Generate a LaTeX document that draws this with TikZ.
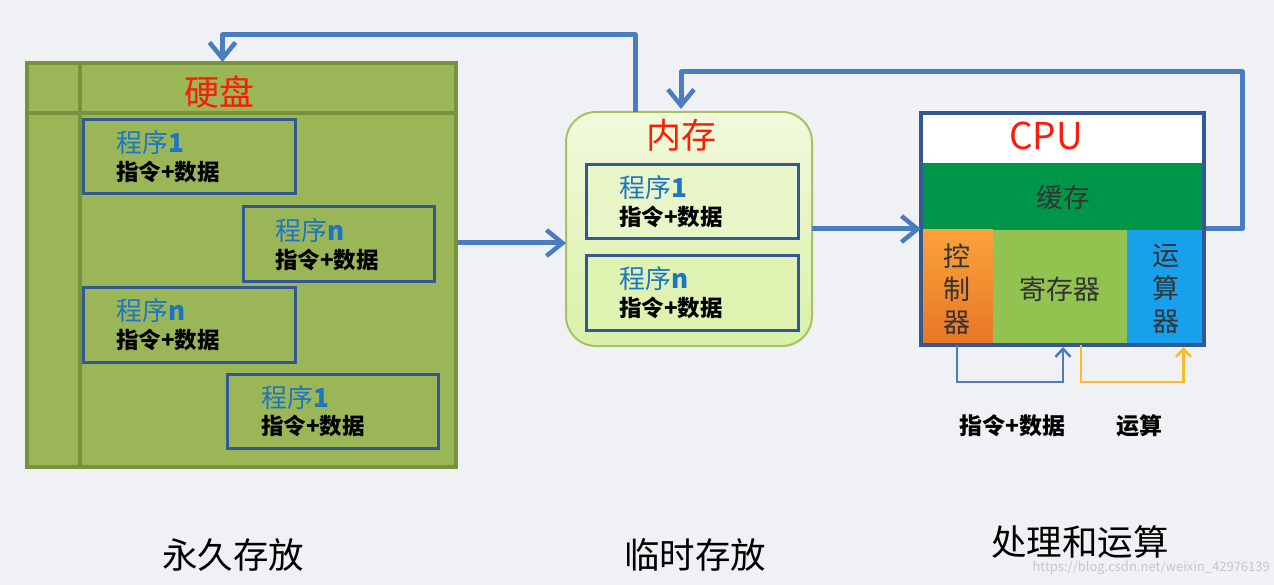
\documentclass[tikz,border=0pt]{standalone}
\usepackage{fontspec}
\setmainfont{Noto Sans CJK SC}
\usetikzlibrary{arrows.meta,calc}
\definecolor{bgcol}{RGB}{240,241,244}
\definecolor{olive}{RGB}{155,182,86}
\definecolor{olivedark}{RGB}{118,146,60}
\definecolor{boxblue}{RGB}{52,88,148}
\definecolor{progblue}{RGB}{28,118,196}
\definecolor{titlered}{RGB}{250,30,10}
\definecolor{conblue}{RGB}{74,124,192}
\definecolor{cachegreen}{RGB}{0,150,74}
\definecolor{reggreen}{RGB}{146,195,80}
\definecolor{alublue}{RGB}{24,160,236}
\definecolor{ctrltop}{RGB}{250,162,60}
\definecolor{ctrlbot}{RGB}{232,118,36}
\definecolor{memtop}{RGB}{242,250,220}
\definecolor{membot}{RGB}{218,240,168}
\definecolor{memborder}{RGB}{165,195,95}
\definecolor{yarrow}{RGB}{252,188,40}
\begin{document}
\begin{tikzpicture}[x=1pt,y=-1pt,
  cell/.style={inner sep=0pt, outer sep=0pt, anchor=north west},
  progbox/.style={cell, draw=boxblue, line width=3pt, minimum width=212pt, minimum height=74pt},
  progtitle/.style={anchor=west, inner sep=0pt, font=\fontsize{26}{26}\selectfont, text=progblue},
  progtext/.style={anchor=west, inner sep=0pt, font=\fontsize{22.5}{22.5}\selectfont\bfseries},
  bigtitle/.style={inner sep=0pt, font=\fontsize{35}{35}\selectfont, text=titlered},
  biglabel/.style={inner sep=0pt, font=\fontsize{35.5}{35.5}\selectfont},
  conn/.style={draw=conblue, line width=5pt, line join=round, -{Straight Barb[length=16pt,width=26pt,line width=4.5pt]}},
  smallconn/.style={line width=2.5pt, -{Straight Barb[length=8pt,width=15pt,line width=2.5pt]}},
]
\useasboundingbox (0,0) rectangle (1274,585);
\fill[bgcol] (0,0) rectangle (1274,585);

% ---------- hard disk ----------
\node[cell, fill=olive, draw=olivedark, line width=3.5pt, minimum width=429pt, minimum height=404pt] (disk) at (27,63) {};
\draw[olivedark, line width=3.5pt] (disk.north west) ++(53,0) coordinate (dv) -- (dv |- disk.south);
\draw[olivedark, line width=3.5pt] (disk.north west) ++(0,50) coordinate (dh) -- (dh -| disk.east);
\node[bigtitle] (disktitle) at (219,92) {硬盘};

\node[progbox] (d1) at (83,120) {};
\node[progtitle] (d1t) at (116,143) {程序\textbf{1}};
\node[progtext] (d1d) at (116,172) {指令+数据};

\node[progbox, minimum width=191pt, minimum height=75pt] (d2) at (243,207) {};
\node[progtitle] (d2t) at (275,231) {程序\textbf{n}};
\node[progtext] (d2d) at (275,260) {指令+数据};

\node[progbox] (d3) at (83,288) {};
\node[progtitle] (d3t) at (116,311) {程序\textbf{n}};
\node[progtext] (d3d) at (116,340) {指令+数据};

\node[progbox, minimum width=211pt] (d4) at (227,374) {};
\node[progtitle] (d4t) at (261,398) {程序\textbf{1}};
\node[progtext] (d4d) at (261,426) {指令+数据};

% ---------- memory ----------
\node[cell, draw=memborder, line width=2pt, rounded corners=30pt, top color=memtop, bottom color=membot, minimum width=246pt, minimum height=234pt] (mem) at (566,112) {};
\node[bigtitle] (memtitle) at (681,135) {内存};
\node[progbox, fill=memtop!60!membot] (m1) at (586,165) {};
\node[progtitle] (m1t) at (619,188) {程序\textbf{1}};
\node[progtext] (m1d) at (619,217) {指令+数据};
\node[progbox, fill=membot!80!memtop] (m2) at (586,256) {};
\node[progtitle] (m2t) at (619,279) {程序\textbf{n}};
\node[progtext] (m2d) at (619,308) {指令+数据};

% ---------- CPU ----------
\node[cell, fill=white, minimum width=283pt, minimum height=50pt] (cputop) at (921,113) {};
\node[inner sep=0pt, font=\fontsize{37}{37}\selectfont, text=titlered] (cputitle) at (1046,136) {CPU};
\node[cell, fill=cachegreen, minimum width=283pt, minimum height=67pt] (cache) at (921,163) {};
\node[inner sep=0pt, font=\fontsize{26.5}{26.5}\selectfont, text=black!80] (cachet) at (1063,197) {缓存};
\node[cell, top color=ctrltop, bottom color=ctrlbot, minimum width=72pt, minimum height=115pt] (ctrl) at (921,230) {};
\node[cell, fill=reggreen, minimum width=134pt, minimum height=115pt] (reg) at (993,230) {};
\node[cell, fill=alublue, minimum width=77pt, minimum height=115pt] (alu) at (1127,230) {};
\node[cell, draw=boxblue, line width=3.5pt, minimum width=283pt, minimum height=232pt] (cpu) at (921,113) {};
\node[inner sep=0pt, align=center, font=\fontsize{27}{33}\selectfont, text=black!80] (ctrlt) at (957,289) {控\\制\\器};
\node[inner sep=0pt, font=\fontsize{27}{27}\selectfont, text=black!80] (regt) at (1060,289) {寄存器};
\node[inner sep=0pt, align=center, font=\fontsize{27}{33}\selectfont, text=black!80] (alut) at (1166,289) {运\\算\\器};

\draw[smallconn, draw=conblue] (ctrl.south) |- ($(reg.south)+(3,37)$) -- ($(reg.south)+(3,2)$);
\draw[smallconn, draw=yarrow] ($(reg.south)+(21,0)$) |- ($(alu.south)+(18,37)$) -- ($(alu.south)+(18,2)$);
\node[inner sep=0pt, font=\fontsize{23}{23}\selectfont\bfseries] (lbl1) at (1012,426) {指令+数据};
\node[inner sep=0pt, font=\fontsize{23}{23}\selectfont\bfseries] (lbl2) at (1139,426) {运算};

% ---------- connectors ----------
\draw[conn] ($(mem.north)+(-54,0)$) -- ++(0,-77) -| ($(disk.north)+(-19,-1)$);
\coordinate (a2) at ($(disk.east)+(2,-22)$);
\draw[conn] (a2) -- (a2 -| mem.west);
\draw[conn] (mem.east) -- (cpu.west);
\draw[conn] ($(cpu.east)+(2,0)$) -- ++(36,0) |- ($(mem.north)+(-8,-40)$) -- ($(mem.north)+(-8,-3)$);

% ---------- bottom labels ----------
\node[biglabel] (l1) at (233,555) {永久存放};
\node[biglabel] (l2) at (695,555) {临时存放};
\node[biglabel] (l3) at (1080,542) {处理和运算};
\node[inner sep=0pt, anchor=east, font=\fontsize{13}{13}\selectfont, text=black!22] (wm) at (1270,568) {https://blog.csdn.net/weixin\_42976139};
\end{tikzpicture}
\end{document}
